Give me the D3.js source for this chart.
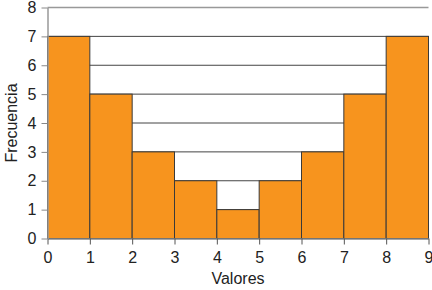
<!DOCTYPE html>
<html>
<head>
<meta charset="utf-8">
<script src="https://cdn.jsdelivr.net/npm/d3@7"></script>
<style>
  body { margin: 0; background: #fff; }
  text { font-family: "Liberation Sans", Arial, sans-serif; fill: #222; }
</style>
</head>
<body>
<svg id="chart" width="432" height="290"></svg>
<script>
// intervalos del histograma y frecuencias
var limites = [0, 1, 2, 3, 4, 5, 6, 7, 8, 9];
var frecuencias = [7, 5, 3, 2, 1, 2, 3, 5, 7];
var yTicks = [0, 1, 2, 3, 4, 5, 6, 7, 8];

var svg = d3.select("#chart");
var m = { left: 47.5, right: 3.5, top: 7.5, bottom: 51.5 };
var w = 432 - m.left - m.right;
var h = 290 - m.top - m.bottom;

var x = d3.scaleLinear().domain([0, 9]).range([m.left, m.left + w]);
var y = d3.scaleLinear().domain([0, 8]).range([m.top + h, m.top]);

// lineas de cuadricula
svg.append("g")
    .selectAll("line")
    .data(yTicks.slice(1))
    .enter().append("line")
    .attr("x1", x(0)).attr("x2", x(9))
    .attr("y1", function (d) { return y(d); })
    .attr("y2", function (d) { return y(d); })
    .attr("stroke", function (d) { return d == 8 ? "#999" : "#444"; })
    .attr("stroke-width", function (d) { return d == 8 ? 1.5 : 1; });

// barras
svg.append("g")
    .selectAll("rect")
    .data(frecuencias)
    .enter().append("rect")
    .attr("x", function (d, i) { return x(limites[i]); })
    .attr("y", function (d) { return y(d); })
    .attr("width", function (d, i) { return x(limites[i + 1]) - x(limites[i]); })
    .attr("height", function (d) { return y(0) - y(d); })
    .attr("fill", "#F7941E")
    .attr("stroke", "#3a3a3a")
    .attr("stroke-width", 1);

// eje x
var xAxis = svg.append("g")
    .attr("transform", "translate(0," + y(0) + ")")
    .call(d3.axisBottom(x).tickValues(limites).tickFormat(d3.format("d")).tickSize(6).tickSizeOuter(0));
xAxis.select(".domain").attr("stroke", "#888").attr("stroke-width", 1.5);
xAxis.selectAll(".tick line").attr("stroke", "#555");
xAxis.selectAll("text").attr("font-size", 16).attr("y", 13).attr("dy", "0.71em");

// eje y
var yAxis = svg.append("g")
    .attr("transform", "translate(" + x(0) + ",0)")
    .call(d3.axisLeft(y).tickValues(yTicks).tickFormat(d3.format("d")).tickSize(6).tickSizeOuter(0));
yAxis.select(".domain").attr("stroke", "#999").attr("stroke-width", 1.5);
yAxis.selectAll(".tick line").attr("stroke", "#888");
yAxis.selectAll("text").attr("font-size", 16).attr("x", -11);

// titulos
svg.append("text")
    .attr("x", x(4.5))
    .attr("y", 284)
    .attr("text-anchor", "middle")
    .attr("font-size", 16)
    .text("Valores");

svg.append("text")
    .attr("transform", "translate(17," + y(4) + ") rotate(-90)")
    .attr("text-anchor", "middle")
    .attr("font-size", 16)
    .text("Frecuencia");
</script>
</body>
</html>
